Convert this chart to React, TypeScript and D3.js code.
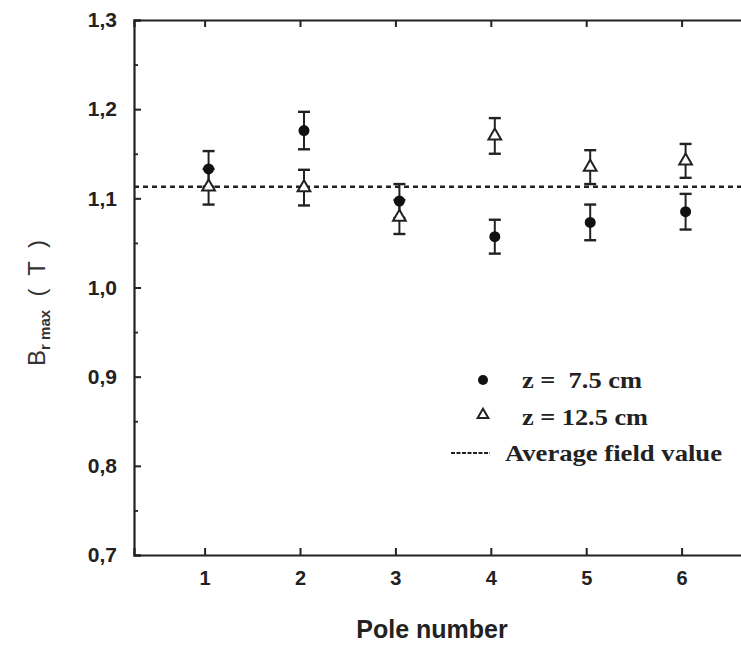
import React, { useEffect, useRef } from 'react';
import * as d3 from 'd3';

const poles = [1, 2, 3, 4, 5, 6];
const near = [1.133, 1.176, 1.097, 1.057, 1.073, 1.085]; // z = 7.5 cm
const far = [1.113, 1.112, 1.079, 1.170, 1.135, 1.142]; // z = 12.5 cm
const nearErr = [0.02, 0.021, 0.019, 0.019, 0.02, 0.02];
const farErr = [0.02, 0.02, 0.019, 0.02, 0.019, 0.019];
const average = 1.113;
const yTicks = [0.7, 0.8, 0.9, 1.0, 1.1, 1.2, 1.3];
const legendLabels = ['z =  7.5 cm', 'z = 12.5 cm', 'Average field value'];

const W = 741;
const H = 647;

function App() {
  const ref = useRef<SVGSVGElement>(null);

  useEffect(() => {
    const svg = d3.select(ref.current);
    svg.selectAll('*').remove();

    const margin = { top: 20, left: 134, bottom: 92 };
    const x = d3.scaleLinear().domain([0.26, 7.75]).range([margin.left, margin.left + 7.49 * 95.4]);
    const y = d3.scaleLinear().domain([0.7, 1.3]).range([H - margin.bottom, margin.top]);
    const sans = 'Liberation Sans, Arial, sans-serif';
    const serif = 'Liberation Serif, Times New Roman, serif';

    // bottom axis
    const gx = svg.append('g')
      .attr('transform', `translate(0,${y(0.7)})`)
      .call(d3.axisBottom(x).tickValues(poles).tickSize(-7).tickPadding(16).tickFormat(d3.format('d')));
    gx.select('.domain').attr('stroke-width', 2.2).attr('stroke', '#222');
    gx.selectAll('.tick line').attr('stroke-width', 2).attr('stroke', '#222');
    gx.selectAll('.tick text').attr('font-family', sans).attr('font-weight', 'bold')
      .attr('font-size', 20).attr('fill', '#222');

    // top axis (mirror ticks)
    const gt = svg.append('g')
      .attr('transform', `translate(0,${y(1.3)})`)
      .call(d3.axisTop(x).tickValues(poles).tickSize(-7).tickFormat(() => ''));
    gt.select('.domain').attr('stroke-width', 2.2).attr('stroke', '#222');
    gt.selectAll('.tick line').attr('stroke-width', 2).attr('stroke', '#222');

    // left axis, minor ticks
    const minor = d3.range(0.75, 1.3, 0.1);
    svg.append('g')
      .attr('transform', `translate(${margin.left},0)`)
      .call(d3.axisLeft(y).tickValues(minor).tickSize(-4).tickFormat(() => ''))
      .call(g => g.select('.domain').remove())
      .selectAll('.tick line').attr('stroke-width', 1.8).attr('stroke', '#222');

    const gy = svg.append('g')
      .attr('transform', `translate(${margin.left},0)`)
      .call(d3.axisLeft(y).tickValues(yTicks).tickSize(-7).tickPadding(17)
        .tickFormat(d => d3.format('.1f')(d as number).replace('.', ',')));
    gy.select('.domain').attr('stroke-width', 2.2).attr('stroke', '#222');
    gy.selectAll('.tick line').attr('stroke-width', 2).attr('stroke', '#222');
    gy.selectAll('.tick text').attr('font-family', sans).attr('font-weight', 'bold')
      .attr('font-size', 21).attr('fill', '#222');

    // average line
    svg.append('line')
      .attr('x1', margin.left).attr('x2', W)
      .attr('y1', y(average)).attr('y2', y(average))
      .attr('stroke', '#222').attr('stroke-width', 2.6).attr('stroke-dasharray', '5,4');

    const cap = 6;
    const errorBars = (vals: number[], errs: number[]) => {
      const g = svg.append('g').attr('stroke', '#222').attr('stroke-width', 2);
      poles.forEach((p, i) => {
        const cx = x(p) + 4;
        g.append('line').attr('x1', cx).attr('x2', cx)
          .attr('y1', y(vals[i] + errs[i])).attr('y2', y(vals[i] - errs[i]));
        [vals[i] + errs[i], vals[i] - errs[i]].forEach(v => {
          g.append('line').attr('x1', cx - cap).attr('x2', cx + cap)
            .attr('y1', y(v)).attr('y2', y(v)).attr('stroke-width', 2.4);
        });
      });
    };
    errorBars(near, nearErr);
    errorBars(far, farErr);

    const tri = d3.symbol().type(d3.symbolTriangle).size(70);
    svg.append('g').selectAll('path').data(far).join('path')
      .attr('d', tri)
      .attr('transform', (d, i) => `translate(${x(poles[i]) + 4},${y(d)})`)
      .attr('fill', 'white').attr('stroke', '#222').attr('stroke-width', 2);

    svg.append('g').selectAll('circle').data(near).join('circle')
      .attr('cx', (d, i) => x(poles[i]) + 4).attr('cy', d => y(d)).attr('r', 5.5)
      .attr('fill', '#111');

    // legend
    const lg = svg.append('g').attr('font-family', serif).attr('font-weight', 'bold')
      .attr('font-size', 24).attr('fill', '#222');
    lg.append('circle').attr('cx', 483).attr('cy', 380).attr('r', 5).attr('fill', '#111');
    lg.append('path').attr('d', d3.symbol().type(d3.symbolTriangle).size(50))
      .attr('transform', 'translate(483,415)').attr('fill', 'white').attr('stroke', '#222').attr('stroke-width', 2);
    lg.append('line').attr('x1', 451).attr('x2', 490).attr('y1', 453).attr('y2', 453)
      .attr('stroke', '#222').attr('stroke-width', 2).attr('stroke-dasharray', '4,1.5');
    lg.append('text').attr('x', 522).attr('y', 388).attr('xml:space', 'preserve')
      .attr('textLength', 120).attr('lengthAdjust', 'spacingAndGlyphs').text(legendLabels[0]);
    lg.append('text').attr('x', 522).attr('y', 425)
      .attr('textLength', 126).attr('lengthAdjust', 'spacingAndGlyphs').text(legendLabels[1]);
    lg.append('text').attr('x', 505).attr('y', 461)
      .attr('textLength', 217).attr('lengthAdjust', 'spacingAndGlyphs').text(legendLabels[2]);

    // axis titles
    svg.append('text')
      .attr('x', 432).attr('y', 638).attr('text-anchor', 'middle')
      .attr('font-family', sans).attr('font-weight', 'bold').attr('font-size', 25).attr('fill', '#222')
      .text('Pole number');

    const yt = svg.append('text')
      .attr('transform', 'translate(45,303) rotate(-90)')
      .attr('text-anchor', 'middle').attr('xml:space', 'preserve')
      .attr('font-family', sans).attr('font-size', 24).attr('fill', '#333');
    yt.append('tspan').text('B');
    yt.append('tspan').attr('font-size', 15).attr('font-weight', 'bold').attr('dy', 5).text('r max');
    yt.append('tspan').attr('dy', -5).text('  (  T  )');
  }, []);

  return (
    <div style={{ position: 'absolute', left: 0, top: 0 }}>
      <svg ref={ref} width={W} height={H} style={{ display: 'block', background: 'white', overflow: 'hidden' }} />
    </div>
  );
}

export default App;
